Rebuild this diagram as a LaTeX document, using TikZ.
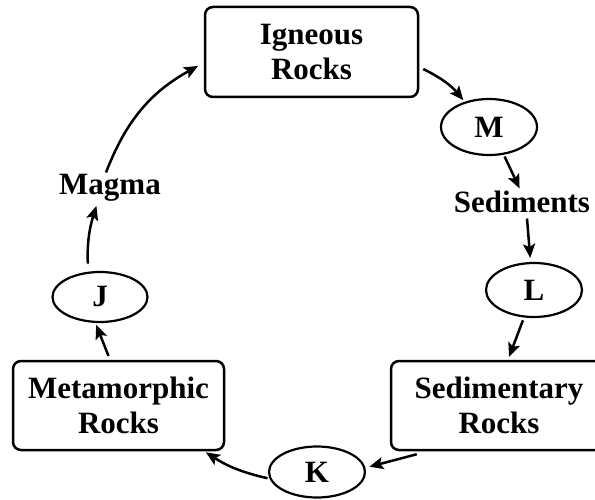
\documentclass[tikz,border=0pt]{standalone}
\usepackage{fontspec}
\setmainfont{Liberation Serif}
\usetikzlibrary{shapes.geometric,arrows.meta}
\begin{document}
\begin{tikzpicture}[x=1pt,y=-1pt,
 every node/.style={font=\fontsize{31}{35}\selectfont\bfseries},
 rockbox/.style={draw, line width=2.5pt, rounded corners=8pt, align=center, inner sep=0pt},
 stage/.style={draw, ellipse, line width=2.2pt, inner sep=0pt},
 flow/.style={line width=2.5pt, -{Stealth[length=14pt,width=12pt,inset=3pt]}},
 lbl/.style={inner sep=2pt}]
\useasboundingbox (0,0) rectangle (595,500);
\node[rockbox, minimum width=213pt, minimum height=90pt] (ign) at (311.5,52) {Igneous\\Rocks};
\node[rockbox, minimum width=211pt, minimum height=89pt] (meta) at (118.5,405.5) {Metamorphic\\Rocks};
\node[rockbox, minimum width=216pt, minimum height=89pt] (sedr) at (499,405.5) {Sedimentary\\Rocks};
\node[stage, minimum width=96pt, minimum height=56pt] (m) at (489,127) {M};
\node[stage, minimum width=96pt, minimum height=54pt] (l) at (534,290) {L};
\node[stage, minimum width=96pt, minimum height=51pt] (k) at (317,472) {K};
\node[stage, minimum width=95pt, minimum height=50pt] (j) at (100,297) {J};
\node[lbl, anchor=base] (sedt) at (522,213) {Sediments};
\node[lbl, anchor=base] (mag) at (110,195) {Magma};
\draw[flow, shorten >=2pt] ([shift={(4,17)}]ign.east) to[bend left=12] (m.134);
\draw[flow, shorten <=2pt, shorten >=1pt] (m.-62) -- ([xshift=-2pt]sedt.north);
\draw[flow, shorten >=4pt] ([shift={(5,3)}]sedt.south) -- (l.97);
\draw[flow, shorten <=3pt, shorten >=3pt] (l.-110) -- ([xshift=9pt]sedr.north);
\draw[flow, shorten >=4pt] ([shift={(27,3)}]sedr.south west) -- (k.5);
\draw[flow, shorten <=2pt, shorten >=2pt] (k.-172) to[bend left=10] ([xshift=-21pt]meta.south east);
\draw[flow, shorten <=4pt, shorten >=2pt] ([xshift=-8.5pt]meta.north) -- (j.-100);
\draw[flow, shorten <=8pt, shorten >=2pt] (j.115) to[bend left=10] ([xshift=-13pt]mag.south);
\draw[flow, shorten >=2pt] ([xshift=-4pt]mag.north) to[bend left=20] ([shift={(-4,13)}]ign.west);
\end{tikzpicture}
\end{document}
